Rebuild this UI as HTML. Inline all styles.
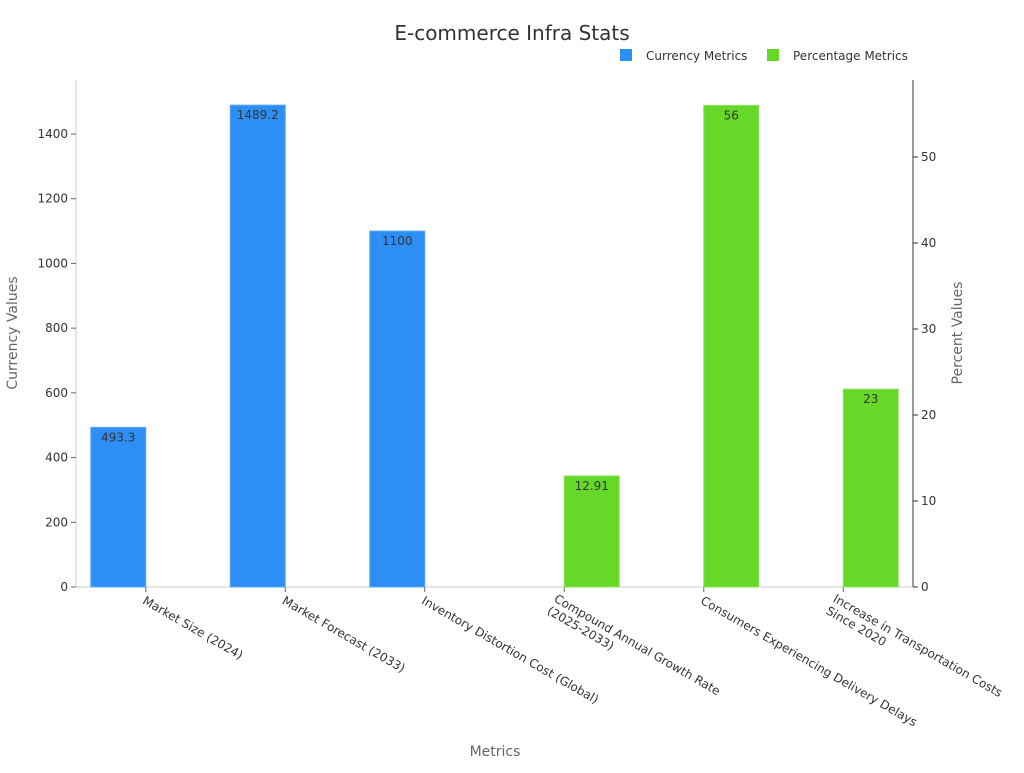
<!DOCTYPE html>
<html><head><meta charset="utf-8"><style>
body{margin:0;background:#fff;font-family:"Liberation Sans","DejaVu Sans",sans-serif;}
svg text{font-family:"DejaVu Sans","Liberation Sans",sans-serif;}
</style></head><body>
<svg id="chart" width="1024" height="768">
<text x="512" y="40" text-anchor="middle" font-size="20" fill="#333">E-commerce Infra Stats</text>
<g>
<rect x="620" y="49" width="12" height="12" fill="#2d8ff5"/>
<text x="646" y="60" font-size="12" fill="#333">Currency Metrics</text>
<rect x="767" y="49" width="12" height="12" fill="#66d928"/>
<text x="793" y="60" font-size="12" fill="#333">Percentage Metrics</text>
</g>
<g id="axes"></g>
<g id="bars"></g>
<text transform="translate(17,333) rotate(-90)" text-anchor="middle" font-size="14" fill="#666">Currency Values</text>
<text transform="translate(962,333) rotate(-90)" text-anchor="middle" font-size="14" fill="#666">Percent Values</text>
<text x="495" y="756" text-anchor="middle" font-size="14" fill="#666">Metrics</text>
</svg>
<script>
const categories=[["Market Size (2024)"],["Market Forecast (2033)"],["Inventory Distortion Cost (Global)"],["Compound Annual Growth Rate","(2025-2033)"],["Consumers Experiencing Delivery Delays"],["Increase in Transportation Costs","Since 2020"]];
const currencyValues=[493.3,1489.2,1100,null,null,null];
const percentValues=[null,null,null,12.91,56,23];
const leftTicks=[0,200,400,600,800,1000,1200,1400];
const rightTicks=[0,10,20,30,40,50];
const NS="http://www.w3.org/2000/svg";
const X0=76,X1=913,Y0=587,YT=80;
const yL=v=>Y0-v*(453/1400);
const yR=v=>Y0-v*(430/50);
const band=(X1-X0)/categories.length;
function mk(t,a,p){const e=document.createElementNS(NS,t);for(const k in a)e.setAttribute(k,a[k]);p.appendChild(e);return e;}
const ax=document.getElementById('axes'),bars=document.getElementById('bars');
let l=mk('line',{x1:X0,y1:YT,x2:X0,y2:Y0,stroke:'#ccc'},ax);

l=mk('line',{x1:X1,y1:YT,x2:X1,y2:Y0,stroke:'#333'},ax);

l=mk('line',{x1:X0,y1:Y0,x2:X1,y2:Y0,stroke:'#ccc'},ax);

leftTicks.forEach(v=>{const y=yL(v);mk('line',{x1:X0-5,x2:X0,y1:y,y2:y,stroke:'#666'},ax);
const t=mk('text',{x:X0-8,y:y+4,'text-anchor':'end','font-size':12,fill:'#333'},ax);t.textContent=v;
});
rightTicks.forEach(v=>{const y=yR(v);mk('line',{x1:X1,x2:X1+5,y1:y,y2:y,stroke:'#333'},ax);
const t=mk('text',{x:X1+8,y:y+4,'font-size':12,fill:'#333'},ax);t.textContent=v;
});
const bw=55;
categories.forEach((c,i)=>{
const cx=X0+band*i+band/2;
mk('line',{x1:cx,x2:cx,y1:Y0,y2:Y0+5,stroke:'#666'},ax);
const t=mk('text',{transform:`translate(${cx-4},${Y0+16}) rotate(30)`,'font-size':12,fill:'#333'},ax);

const n=c.length;
c.forEach((s,j)=>{const ts=mk('tspan',{x:0,dy:j==0?0:14},t);ts.textContent=s;});
if(n>1){t.setAttribute('transform',`translate(${cx-4-(n-1)*7},${Y0+16-(n-1)*2}) rotate(30)`);}
[[currencyValues[i],yL,'#2d8ff5','#5aa8f8',cx-bw,'currency'],[percentValues[i],yR,'#66d928','#8ae35a',cx,'percent']].forEach(([v,sc,f,s,x,nm])=>{
if(v==null)return;const y=sc(v);
const r=mk('rect',{x:x,y:y,width:bw,height:Y0-y,fill:f,stroke:s},bars);

const tl=mk('text',{x:x+bw/2,y:y+14,'text-anchor':'middle','font-size':12,fill:'#333'},bars);tl.textContent=v;

});
});
</script>
</body></html>
